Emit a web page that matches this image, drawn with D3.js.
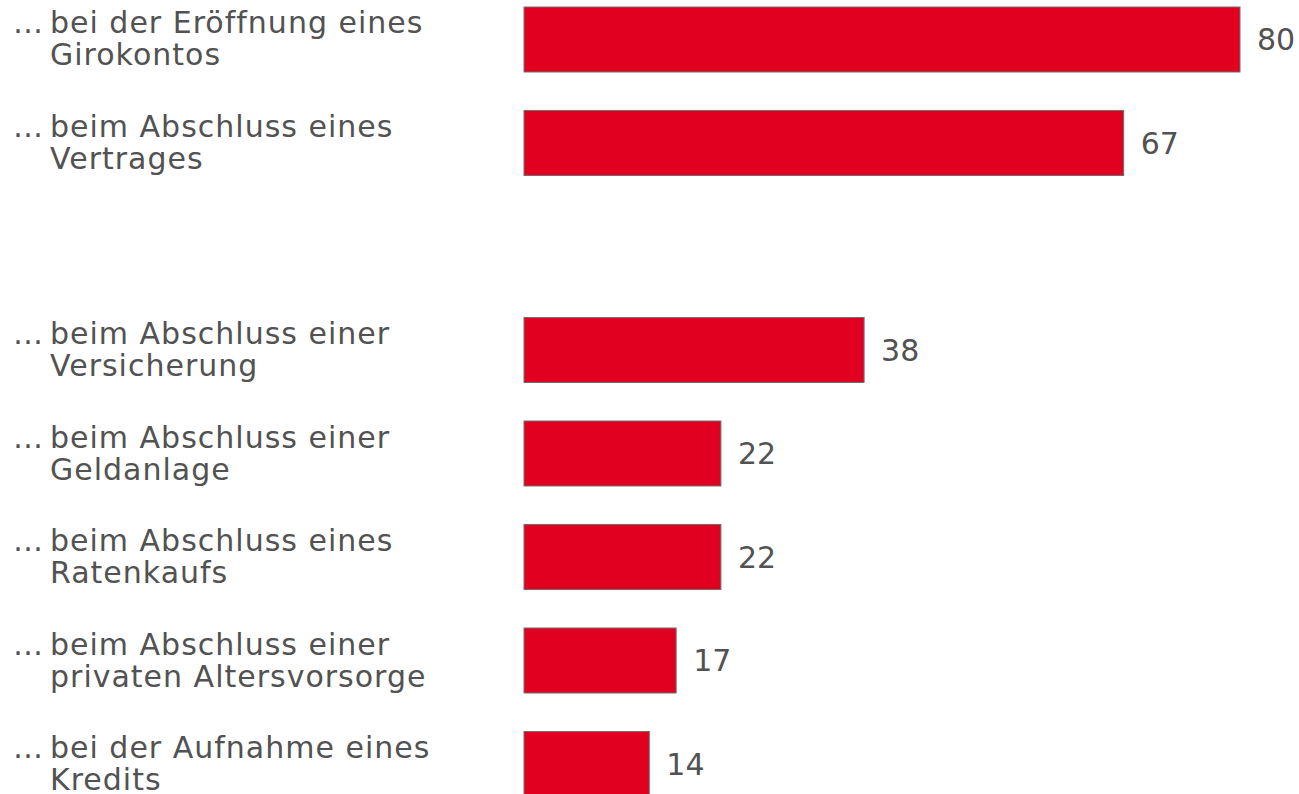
<!DOCTYPE html>
<html>
<head>
<meta charset="utf-8">
<script src="https://cdn.jsdelivr.net/npm/d3@7"></script>
<style>
    body { margin: 0; background: #ffffff; }
    svg text { font-family: "DejaVu Sans", Verdana, sans-serif; fill: #525252; }
</style>
</head>
<body>
<svg id="chart"></svg>
<script>
// categories (first and second label line), "" marks the empty row
var labelLine1 = ["… bei der Eröffnung eines", "… beim Abschluss eines", "",
    "… beim Abschluss einer", "… beim Abschluss einer", "… beim Abschluss eines",
    "… beim Abschluss einer", "… bei der Aufnahme eines"];
var labelLine2 = ["Girokontos", "Vertrages", "",
    "Versicherung", "Geldanlage", "Ratenkaufs",
    "privaten Altersvorsorge", "Kredits"];
// values in percent, null for the empty row
var values = [80, 67, null, 38, 22, 22, 17, 14];

var width = 1299,
    height = 794;

var svg = d3.select("#chart")
    .attr("width", width)
    .attr("height", height);

var rows = values.map(function(v, i) {
    return { i: i, value: v, l1: labelLine1[i], l2: labelLine2[i] };
});

// scales
var x = d3.scaleLinear()
    .domain([0, 80])
    .range([524, 1240]);

var y = d3.scaleBand()
    .domain(rows.map(function(d) { return d.i; }))
    .range([7, 796.5])
    .paddingInner(0.372)
    .paddingOuter(0)
    .align(0);

var filled = rows.filter(function(d) { return d.value !== null; });

// bars
svg.selectAll("rect.bar")
    .data(filled)
    .enter()
    .append("rect")
    .attr("class", "bar")
    .attr("x", x(0))
    .attr("y", function(d) { return y(d.i); })
    .attr("width", function(d) { return x(d.value) - x(0); })
    .attr("height", y.bandwidth())
    .style("fill", "#e10020")
    .style("stroke", "#707070")
    .style("stroke-width", 1);

// value labels
svg.selectAll("text.value")
    .data(filled)
    .enter()
    .append("text")
    .attr("class", "value")
    .attr("x", function(d) { return x(d.value) + 17; })
    .attr("y", function(d) { return y(d.i) + y.bandwidth() / 2; })
    .attr("dy", "0.36em")
    .style("font-size", "30px")
    .text(function(d) { return d.value; });

// category labels: ellipsis hanging left, both lines aligned at x=50
var lab = svg.selectAll("text.label")
    .data(filled)
    .enter()
    .append("text")
    .attr("class", "label")
    .style("font-size", "30px")
    .style("letter-spacing", "1px");

lab.append("tspan")
    .attr("x", 13)
    .attr("y", function(d) { return y(d.i) + y.bandwidth() / 2 - 6; })
    .text("…");

lab.append("tspan")
    .attr("x", 50)
    .attr("y", function(d) { return y(d.i) + y.bandwidth() / 2 - 6; })
    .text(function(d) { return d.l1.replace(/^…\s*/, ""); });

lab.append("tspan")
    .attr("x", 50)
    .attr("y", function(d) { return y(d.i) + y.bandwidth() / 2 + 26; })
    .text(function(d) { return d.l2; });
</script>
</body>
</html>
